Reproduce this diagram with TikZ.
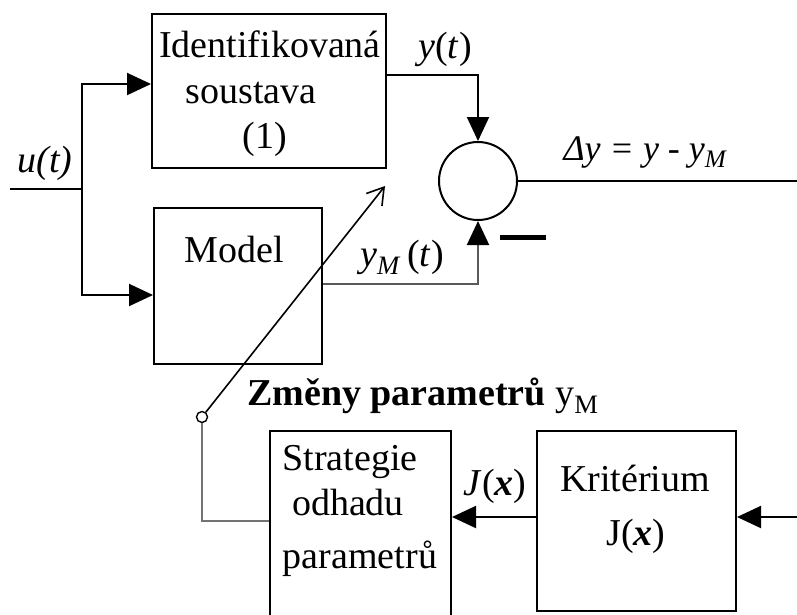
\documentclass[tikz,border=0pt]{standalone}
\usepackage{fontspec}
\setmainfont{Liberation Serif}
\usetikzlibrary{arrows.meta}
\begin{document}
\begin{tikzpicture}[x={(1pt,0)},y={(0,-1pt)},
  line/.style={line width=2pt},
  grayline/.style={line width=2pt, draw=black!55},
  arr/.style={line, -{Triangle[length=24pt,width=22pt]}},
  grayarr/.style={line width=2pt, draw=black!65, -{Triangle[length=24pt,width=22pt,fill=black,color=black]}},
  diag/.style={line width=1.6pt, -{Straight Barb[length=16pt,width=20pt,line width=1.6pt]}},
  blk/.style={draw, line width=2pt, rectangle, inner sep=0pt},
  txt/.style={font=\fontsize{38}{44}\selectfont, anchor=base, inner sep=0pt},
  smalltxt/.style={font=\fontsize{36}{42}\selectfont, anchor=base, inner sep=0pt}]
\useasboundingbox (0,0) rectangle (797,614);
\clip (0,0) rectangle (797,614);

% blocks
\node[blk, minimum width=234pt, minimum height=154pt] (ident) at (269,91) {};
\node[blk, minimum width=168pt, minimum height=156pt] (model) at (238,286) {};
\node[blk, minimum width=181pt, minimum height=209pt] (strat) at (360.5,535.5) {};
\node[blk, minimum width=199pt, minimum height=180pt] (krit) at (636.5,521) {};
\node[draw, circle, line width=2pt, minimum size=78pt, inner sep=0pt] (sum) at (478,181) {};
\node[draw, circle, line width=1.4pt, minimum size=11pt, inner sep=0pt] (knob) at (202,417) {};

% block texts
\node[txt] (t1) at (270,57) {Identifikovaná};
\node[txt] (t2) at (251,103) {soustava};
\node[txt] (t3) at (265,148) {(1)};
\node[txt] (t4) at (234,262) {Model};
\node[txt] (t5) at (350,470) {Strategie};
\node[txt] (t6) at (348,515) {odhadu};
\node[txt] (t7) at (360,568) {parametrů};
\node[txt] (t8) at (635,491) {Kritérium};
\node[txt] (t9) at (636,545) {J(\textbf{\textit{x}})};

% signal labels
\node[txt] (lu) at (45,172) {\textit{u(t)}};
\node[txt] (ly) at (445,58) {\textit{y}(\textit{t})};
\node[smalltxt] (ld) at (645,160) {\textit{Δy = y - y\textsubscript{M}}};
\node[txt] (lym) at (402,266) {\textit{y}\textsubscript{\textit{M}}\,(\textit{t})};
\node[txt, anchor=base west] (lz) at (247,405) {\textbf{Změny parametrů} y\textsubscript{M}};
\node[txt] (lj) at (495,495) {\textit{J}(\textit{\textbf{x}})};

% connectors
\coordinate (uin) at (10,189);
\coordinate (split) at (82,189);
\draw[line] (uin) -- (split);
\draw[arr] (split) |- ([yshift=7pt]ident.west);
\draw[arr] (split) |- ([yshift=-9pt]model.west);
\draw[arr] ([yshift=16pt]ident.east) -| (sum.north);
\draw[grayarr] ([yshift=2pt]model.east) -| (sum.south);
\coordinate (out) at (797,181);
\draw[line] (sum.east) -- (out);
\draw[line width=5pt] (500,237) -- (546,237);

\coordinate (tip) at (385,186);
\draw[diag] (knob) -- (tip);
\draw[grayline] (knob.south) |- ([yshift=14.5pt]strat.west);
\draw[arr] ([yshift=4pt]krit.west) -- ([yshift=4pt]krit.west -| strat.east);
\coordinate (kin) at (797,517);
\draw[arr] (kin) -- (kin -| krit.east);
\end{tikzpicture}
\end{document}
